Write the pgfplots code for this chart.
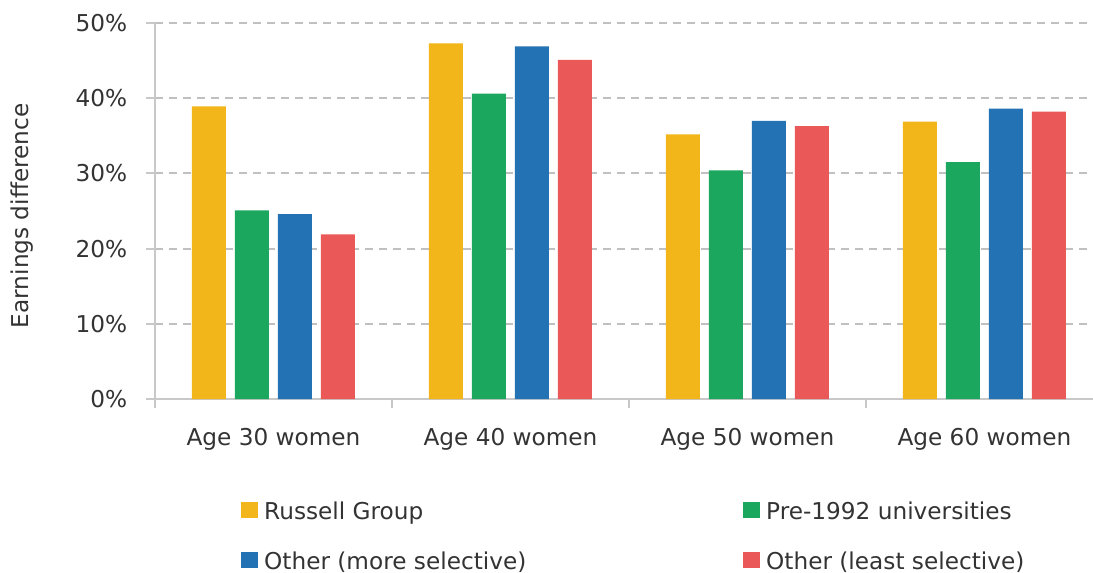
\documentclass[border=0pt]{standalone}
\usepackage{pgfplots}
\pgfplotsset{compat=1.18}
\usepackage{fontspec}
\setmainfont{DejaVu Sans}
\definecolor{cRG}{HTML}{F2B61A}
\definecolor{cPre}{HTML}{1CA75E}
\definecolor{cOth}{HTML}{2373B4}
\definecolor{cLeast}{HTML}{EB5858}
\definecolor{axgray}{HTML}{C8C8C8}
\definecolor{gridgray}{HTML}{C0C0C0}
\definecolor{txt}{HTML}{333333}
\newcommand{\fs}{\fontsize{11.6}{14}\selectfont}
\pgfplotsset{
  legsq/.style={legend image code/.code={\fill[##1] (0pt,-3.7pt) rectangle (8.4pt,4.7pt);}}
}
\begin{document}
\begin{tikzpicture}
\useasboundingbox (-77.5pt,-87pt) rectangle (469pt,199.5pt);
\begin{axis}[
  scale only axis,
  width=469pt, height=188pt,
  xmin=-0.5, xmax=3.458,
  ymin=0, ymax=50,
  ybar, bar width=17pt,
  axis x line*=bottom, axis y line*=left,
  axis line style={axgray, line width=1pt},
  tick align=outside,
  major tick length=4.25pt,
  tick style={axgray, line width=1pt},
  xtick={-0.5,0.5,1.5,2.5},
  xticklabels={Age 30 women,Age 40 women,Age 50 women,Age 60 women},
  xticklabel style={font=\fs, text=txt, anchor=north, inner sep=0pt, xshift=59.25pt, yshift=-10pt},
  ytick={0,10,20,30,40,50},
  yticklabels={0\%,10\%,20\%,30\%,40\%,50\%},
  yticklabel style={font=\fs, text=txt, anchor=east, inner sep=0pt, xshift=-9.5pt},
  ymajorgrids=true,
  major grid style={gridgray, line width=1pt, dash pattern=on 4pt off 3pt},
  ylabel={Earnings difference},
  ylabel style={font=\fs, text=txt, at={(axis description cs:-0.1422,0.487)}, anchor=center, rotate=0},
  /pgf/number format/assume math mode=true,
  legend columns=2,
  legend style={at={(axis description cs:0.0917,-0.267)}, anchor=north west, draw=none, fill=none,
    inner sep=0pt, font=\fs, text=txt, nodes={inner sep=0pt}, cells={anchor=west},
    row sep=13.7pt,
    /tikz/every odd column/.append style={column sep=3pt}},
]
\addplot[fill=cRG, draw=none, bar shift=-32.25pt, legsq] coordinates {(0,38.9) (1,47.3) (2,35.2) (3,36.9)};
\addlegendentry{\makebox[239.6pt][l]{\strut Russell Group}}
\addplot[fill=cPre, draw=none, bar shift=-10.75pt, legsq] coordinates {(0,25.1) (1,40.6) (2,30.4) (3,31.5)};
\addlegendentry{\strut Pre-1992 universities}
\addplot[fill=cOth, draw=none, bar shift=10.75pt, legsq] coordinates {(0,24.6) (1,46.9) (2,37.0) (3,38.6)};
\addlegendentry{\makebox[239.6pt][l]{\strut Other (more selective)}}
\addplot[fill=cLeast, draw=none, bar shift=32.25pt, legsq] coordinates {(0,21.9) (1,45.1) (2,36.3) (3,38.2)};
\addlegendentry{\strut Other (least selective)}
\end{axis}
\end{tikzpicture}
\end{document}
